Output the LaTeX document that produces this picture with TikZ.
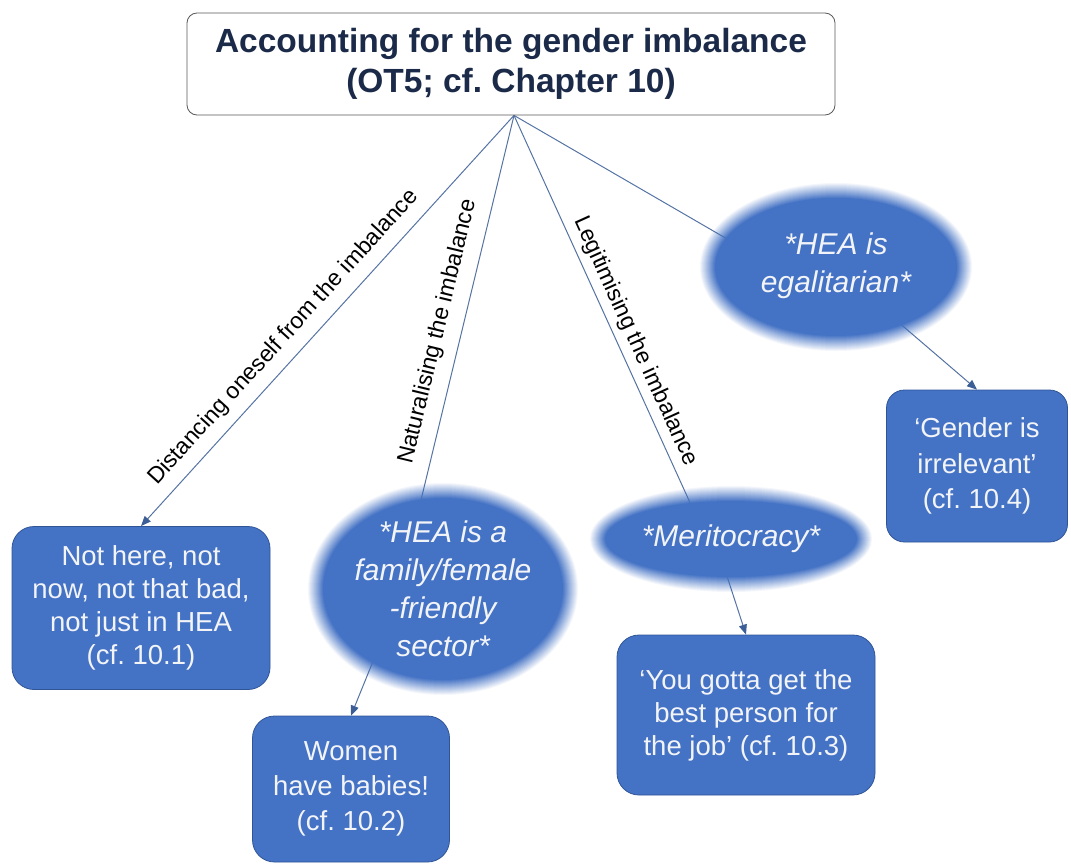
\documentclass[tikz,border=0pt]{standalone}
\usepackage{fontspec}
\setmainfont{Liberation Sans}
\frenchspacing
\usetikzlibrary{shapes.geometric,arrows.meta,backgrounds}
\definecolor{obl}{HTML}{4472C4}
\definecolor{obd}{HTML}{2F5597}
\definecolor{navy}{HTML}{1B2A48}
\definecolor{connc}{HTML}{5573A3}
\definecolor{arrc}{HTML}{3C5E96}
\definecolor{wtxt}{HTML}{F2F4F8}
\definecolor{tborder}{HTML}{595959}
\tikzset{
  bluebox/.style={draw=obd, line width=0.8pt, fill=obl, rounded corners=22pt, text=wtxt,
    align=center, inner sep=0pt, font=\fontsize{27.5}{33}\selectfont},
  ellcore/.style={shape=ellipse, fill=obl, inner sep=0pt},
  elltext/.style={text=wtxt, align=center, font=\fontsize{30}{38}\selectfont\itshape},
  connline/.style={draw=connc, line width=1pt},
  arrowconn/.style={connline, -{Triangle[length=10pt,width=8pt,fill=arrc,color=arrc]}},
  edgelbl/.style={sloped, font=\fontsize{23}{27}\selectfont, text=black, inner sep=2pt},
}
\newcommand{\softell}[4]{%
  \foreach \k in {1,...,16}{\fill[obl, opacity={1/\k}] (#1,#2) ellipse [x radius={#3-14+\k}, y radius={#4-14+\k}];}%
}
\begin{document}
\begin{tikzpicture}[x=1pt,y=-1pt]
\useasboundingbox (0,0) rectangle (1071,864);

% title
\node[draw=tborder, line width=0.8pt, rounded corners=10pt, fill=white, minimum width=648pt,
  minimum height=102pt, align=center, text=navy, inner sep=0pt,
  font=\fontsize{33.5}{40}\selectfont\bfseries] (title) at (511,64)
  {Accounting for the gender imbalance\\(OT5; cf. Chapter 10)};
\coordinate (hub) at ([xshift=3pt]title.south);

% soft ellipses
\softell{443}{589}{133}{104}
\softell{731}{539}{139}{51}
\softell{836}{267}{134}{82}
\node[ellcore, minimum width=236pt, minimum height=180pt,
  label={[elltext]center:{*HEA is a\\family/female\\-friendly\\sector*}}] (e2) at (443,589) {};
\node[ellcore, minimum width=248pt, minimum height=74pt,
  label={[elltext]center:{*Meritocracy*}}] (m) at (731,539) {};
\node[ellcore, minimum width=238pt, minimum height=136pt,
  label={[elltext]center:{*HEA is\\egalitarian*}}] (eg) at (836,266) {};

% boxes
\node[bluebox, minimum width=258pt, minimum height=163pt] (b1) at (141,608)
  {Not here, not\\now, not that bad,\\not just in HEA\\(cf. 10.1)};
\node[bluebox, minimum width=197pt, minimum height=146pt, font=\fontsize{27.5}{35}\selectfont] (w) at (351,789)
  {Women\\have babies!\\(cf. 10.2)};
\node[bluebox, minimum width=258pt, minimum height=160pt] (y) at (746,715)
  {‘You gotta get the\\best person for\\the job’ (cf. 10.3)};
\node[bluebox, minimum width=181pt, minimum height=152pt, rounded corners=18pt,
  font=\fontsize{27.5}{35.5}\selectfont] (g) at (977,466)
  {‘Gender is\\irrelevant’\\(cf. 10.4)};

% connectors
\begin{scope}[on background layer]
  \draw[arrowconn] (hub) -- node[edgelbl, pos=0.575, above=8pt] {Distancing oneself from the imbalance} (b1.north);
  \draw[connline] (hub) -- node[edgelbl, pos=0.576, above=10pt] {Naturalising the imbalance} (e2.104);
  \draw[connline] (hub) -- node[edgelbl, pos=0.6, above=4pt] {Legitimising the imbalance} (m.139);
  \draw[connline] (hub) -- (eg.166);
  \draw[arrowconn] (e2.226) -- (w.north);
  \draw[arrowconn] ([xshift=-4pt]m.south) -- (y.north);
  \draw[arrowconn] (eg.-42) -- (g.north);
\end{scope}
\end{tikzpicture}
\end{document}
